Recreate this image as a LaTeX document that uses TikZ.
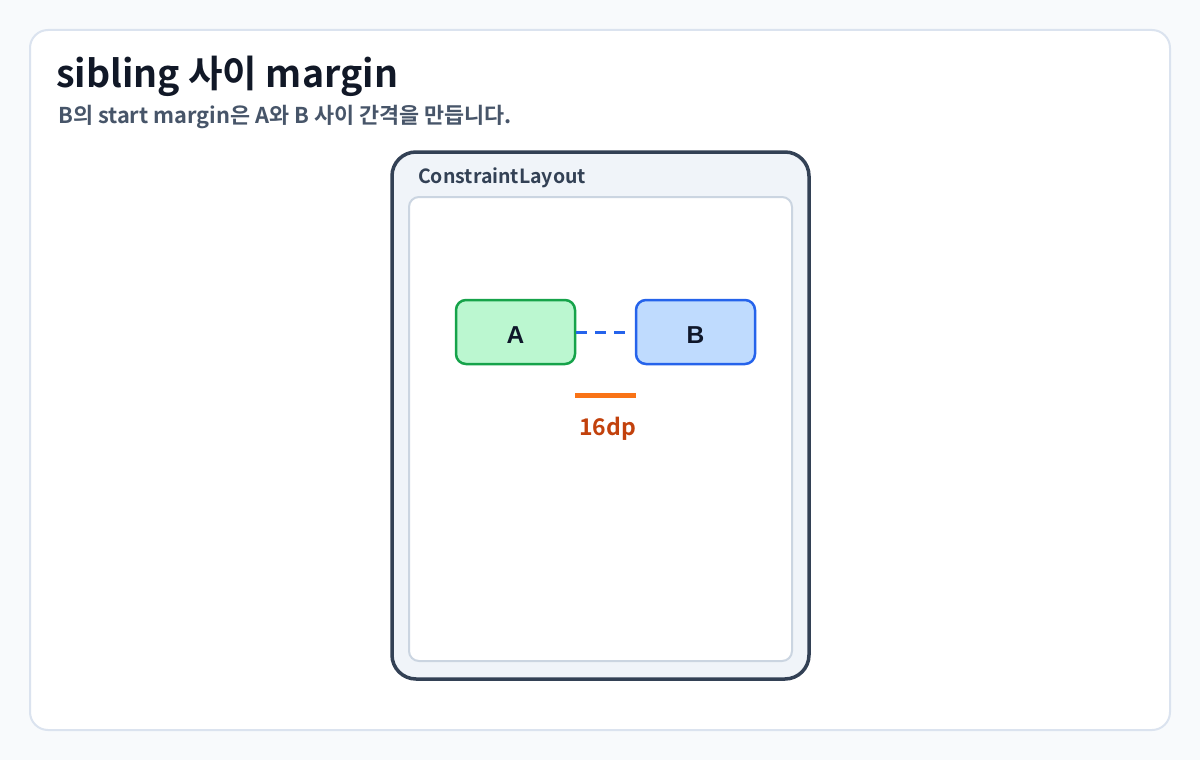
\documentclass[tikz,border=0pt]{standalone}
\usepackage{fontspec}
\setmainfont{Noto Sans CJK KR}[BoldFont={* Bold}]
\newfontfamily\kr{Noto Sans CJK KR Bold}
\newfontfamily\arl{Liberation Sans}[BoldFont={* Bold}]
\definecolor{pagebg}{HTML}{F8FAFC}
\definecolor{cardline}{HTML}{DBE3EF}
\definecolor{titlec}{HTML}{111827}
\definecolor{subc}{HTML}{475569}
\definecolor{clline}{HTML}{334155}
\definecolor{clfill}{HTML}{F0F4F9}
\definecolor{innerline}{HTML}{CBD5E1}
\definecolor{afill}{HTML}{BBF7D0}
\definecolor{aline}{HTML}{16A34A}
\definecolor{bfill}{HTML}{BFDBFE}
\definecolor{bline}{HTML}{2563EB}
\definecolor{barc}{HTML}{F97316}
\definecolor{dpc}{HTML}{C2410C}
\definecolor{boxtext}{HTML}{0F172A}
\tikzset{
  viewbox/.style={rounded corners=10pt, line width=2.5pt, minimum width=119pt, minimum height=64pt, inner sep=0pt},
  viewlabel/.style={inner sep=0pt, anchor=base, font=\arl\bfseries\fontsize{24.5}{24.5}\selectfont, text=boxtext},
}
\begin{document}
\begin{tikzpicture}[x=1pt,y=-1pt]
\useasboundingbox (0,0) rectangle (1200,760);
\fill[pagebg] (0,0) rectangle (1200,760);
\draw[cardline, fill=white, line width=2pt, rounded corners=18pt] (30,30) rectangle (1170,730);
\node[anchor=base west, inner sep=0pt, text=titlec, font=\kr\fontsize{37.5}{37.5}\selectfont] (title) at (56,88) {sibling 사이 margin};
\node[anchor=base west, inner sep=0pt, text=subc, font=\kr\fontsize{21.8}{21.8}\selectfont] (sub) at (58,123) {B의 start margin은 A와 B 사이 간격을 만듭니다.};
\draw[clline, fill=clfill, line width=3.5pt, rounded corners=24pt] (392,152) rectangle (809,679);
\node[anchor=base west, inner sep=0pt, text=clline, font=\kr\fontsize{19.5}{19.5}\selectfont] (cl) at (418,183) {ConstraintLayout};
\draw[innerline, fill=white, line width=2pt, rounded corners=10pt] (409,197) rectangle (792,661);
\node[viewbox, draw=aline, fill=afill] (A) at (515.5,332) {};
\node[viewbox, draw=bline, fill=bfill] (B) at (695.5,332) {};
\node[viewlabel] (Alabel) at (515.5,343) {A};
\node[viewlabel] (Blabel) at (695.5,343) {B};
\draw[bline, line width=3pt, dash pattern=on 11pt off 8pt] (A.east) -- ([xshift=-9pt]B.west);
\coordinate (m1) at (575,395.5);
\coordinate (m2) at (636,395.5);
\draw[barc, line width=5pt] (m1) -- (m2);
\node[anchor=base, inner sep=0pt, text=dpc, font=\kr\fontsize{23}{23}\selectfont] (dp) at (607.5,435) {16dp};
\end{tikzpicture}
\end{document}
